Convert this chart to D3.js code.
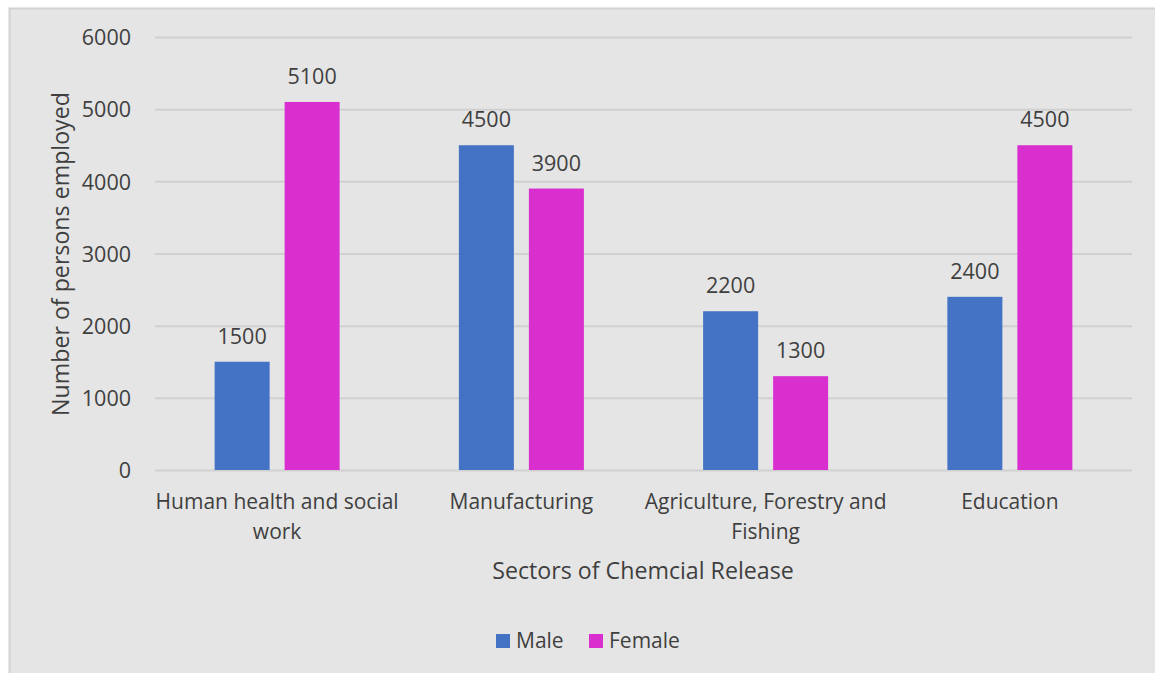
<!DOCTYPE html>
<html>
<head>
<meta charset="utf-8">
<script src="https://cdn.jsdelivr.net/npm/d3@7"></script>
<style>
  html, body { margin: 0; padding: 0; background: #ffffff; }
  svg { display: block; }
  text { font-family: "Open Sans", "Noto Sans", sans-serif; }
</style>
</head>
<body>
<svg id="chart" width="1155" height="673"></svg>
<script>
// Employment by sector, split by sex
const categories = [
  ["Human health and social", "work"],
  ["Manufacturing"],
  ["Agriculture, Forestry and", "Fishing"],
  ["Education"]
];
const seriesNames = ["Male", "Female"];
const maleValues = [1500, 4500, 2200, 2400];
const femaleValues = [5100, 3900, 1300, 4500];
const yTicks = [0, 1000, 2000, 3000, 4000, 5000, 6000];
const colors = { Male: "#4472c4", Female: "#d92fce" };

const svg = d3.select("#chart");
const W = 1155, H = 673;

// chart panel
svg.append("rect")
  .attr("x", 9.5).attr("y", 8.5)
  .attr("width", W).attr("height", H)
  .attr("fill", "#e5e5e5")
  .attr("stroke", "#d2d2d2").attr("stroke-width", 2);

const plot = { left: 155, right: 1132, top: 37, bottom: 470 };

const catKeys = categories.map((c, i) => i);
const x = d3.scaleBand().domain(catKeys).range([plot.left, plot.right]).padding(0);
const inner = d3.scaleBand().domain(seriesNames).range([-62.5, 62.5])
  .paddingInner(15 / 70).paddingOuter(0);
const y = d3.scaleLinear().domain([0, 6000]).range([plot.bottom, plot.top]);

// gridlines
const yAxis = d3.axisLeft(y).tickValues(yTicks).tickSize(-(plot.right - plot.left)).tickPadding(24)
  .tickFormat(d3.format("d"));
const gy = svg.append("g").attr("transform", `translate(${plot.left},0)`).call(yAxis);
gy.select(".domain").remove();
gy.selectAll(".tick line").attr("stroke", "#d0d0d0").attr("stroke-width", 2);
gy.selectAll(".tick text")
  .attr("fill", "#3f3f3f")
  .attr("font-size", 21.5)
  .attr("x", -24)
  .attr("dy", "0.36em");

// bars
const rows = categories.map((c, i) => ({ i, Male: maleValues[i], Female: femaleValues[i] }));
const groups = svg.append("g").selectAll("g").data(rows).join("g")
  .attr("transform", d => `translate(${x(d.i) + x.bandwidth() / 2},0)`);

groups.selectAll("rect")
  .data(d => seriesNames.map(s => ({ s, v: d[s] })))
  .join("rect")
  .attr("x", d => inner(d.s))
  .attr("width", inner.bandwidth())
  .attr("y", d => y(d.v))
  .attr("height", d => y(0) - y(d.v))
  .attr("fill", d => colors[d.s]);

// value labels
groups.selectAll("text.val")
  .data(d => seriesNames.map(s => ({ s, v: d[s] })))
  .join("text")
  .attr("class", "val")
  .attr("x", d => inner(d.s) + inner.bandwidth() / 2)
  .attr("y", d => y(d.v) - 18)
  .attr("text-anchor", "middle")
  .attr("font-size", 21.5)
  .attr("fill", "#3f3f3f")
  .text(d => d.v);

// category labels
const gx = svg.append("g");
categories.forEach((lines, i) => {
  const t = gx.append("text")
    .attr("x", x(i) + x.bandwidth() / 2)
    .attr("y", 509)
    .attr("text-anchor", "middle")
    .attr("font-size", 21)
    .attr("fill", "#3f3f3f");
  lines.forEach((ln, k) => {
    t.append("tspan")
      .attr("x", x(i) + x.bandwidth() / 2)
      .attr("dy", k === 0 ? 0 : 30)
      .text(ln);
  });
});

// axis titles
svg.append("text")
  .attr("x", 643)
  .attr("y", 579)
  .attr("text-anchor", "middle")
  .attr("font-size", 23.2)
  .attr("fill", "#3f3f3f")
  .text("Sectors of Chemcial Release");

svg.append("text")
  .attr("transform", `translate(69,254) rotate(-90)`)
  .attr("text-anchor", "middle")
  .attr("font-size", 23.2)
  .attr("fill", "#3f3f3f")
  .text("Number of persons employed");

// legend
const legend = svg.append("g");
const legendItems = [{ s: "Male", x: 496 }, { s: "Female", x: 589 }];
legendItems.forEach(it => {
  legend.append("rect")
    .attr("x", it.x).attr("y", 634)
    .attr("width", 14).attr("height", 14)
    .attr("fill", colors[it.s]);
  legend.append("text")
    .attr("x", it.x + 20).attr("y", 648)
    .attr("font-size", 21)
    .attr("fill", "#3f3f3f")
    .text(it.s);
});
</script>
</body>
</html>
